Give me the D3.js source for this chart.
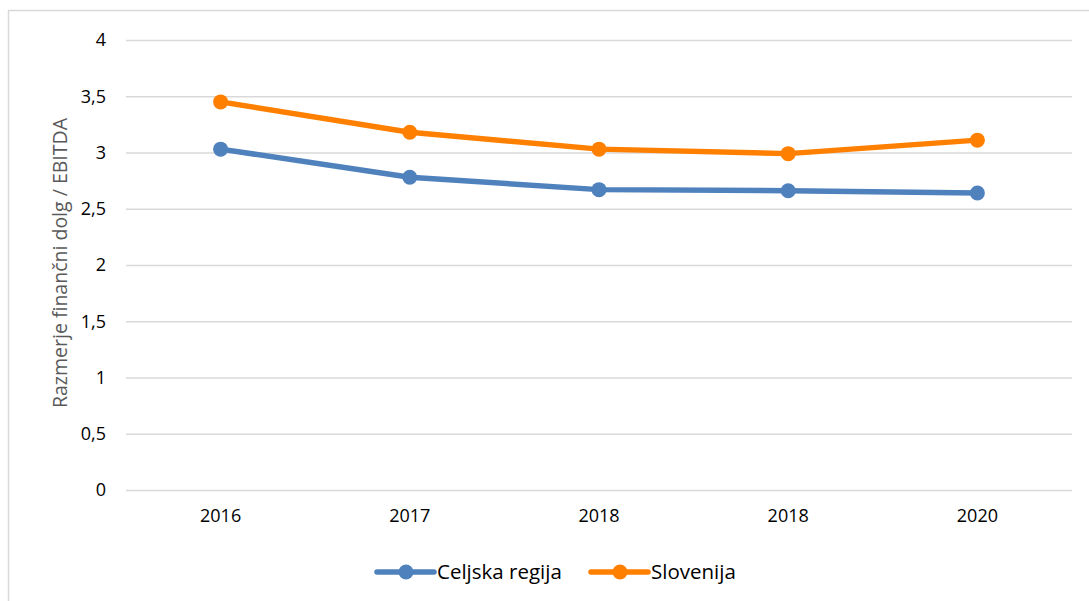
<!DOCTYPE html>
<html>
<head>
<meta charset="utf-8">
<script src="https://cdn.jsdelivr.net/npm/d3@7"></script>
<style>
  body { margin: 0; background: #fff; }
  svg { display: block; font-family: "Open Sans", sans-serif; }
</style>
</head>
<body>
<svg id="chart" width="1089" height="601"></svg>
<script>
// categories (note: the source chart really has 2018 twice)
const years = ['2016', '2017', '2018', '2018', '2020'];
const celjska = [3.03, 2.78, 2.67, 2.66, 2.64];
const slovenija = [3.45, 3.18, 3.03, 2.99, 3.11];
const yTicks = [0, 0.5, 1, 1.5, 2, 2.5, 3, 3.5, 4];

const series = [
    { name: 'Celjska regija', values: celjska, color: '#4f81bd' },
    { name: 'Slovenija', values: slovenija, color: '#ff8000' }
];

const svg = d3.select('#chart');
const m = { left: 126, right: 1072, top: 40, bottom: 490 };
const font = '"Open Sans", sans-serif';

// outer chart border
svg.append('rect')
    .attr('x', 8.5).attr('y', 10.5)
    .attr('width', 1200).attr('height', 800)
    .attr('fill', 'none').attr('stroke', '#d9d9d9').attr('stroke-width', 1.5);

const x = d3.scaleBand().domain(d3.range(years.length)).range([m.left, m.right]);
const y = d3.scaleLinear().domain([0, 4]).range([m.bottom, m.top]);
const fmt = d => String(d).replace('.', ',');

// grid + y labels
const yAxis = svg.append('g')
    .attr('transform', `translate(${m.left},0)`)
    .call(d3.axisLeft(y).tickValues(yTicks).tickFormat(fmt).tickSize(-(m.right - m.left)).tickPadding(20))
    .attr('font-family', font);
yAxis.select('.domain').remove();
yAxis.selectAll('.tick line').attr('stroke', '#d9d9d9').attr('stroke-width', 1.5);
yAxis.selectAll('.tick text').attr('fill', '#000').style('font-size', '18px');

// x labels
const xAxis = svg.append('g')
    .attr('transform', `translate(0,${m.bottom})`)
    .call(d3.axisBottom(x).tickFormat(i => years[i]).tickSize(0).tickPadding(19))
    .attr('font-family', font);
xAxis.select('.domain').remove();
xAxis.selectAll('.tick text').attr('fill', '#000').style('font-size', '18px');

// y title
svg.append('text')
    .attr('transform', `translate(60,263) rotate(-90)`)
    .attr('text-anchor', 'middle')
    .attr('dy', '0.35em')
    .attr('fill', '#595959')
    .style('font-size', '19.5px')
    .text('Razmerje finančni dolg / EBITDA');

const line = d3.line()
    .x((d, i) => x(i) + x.bandwidth() / 2)
    .y(d => y(d));

series.forEach(s => {
    svg.append('path')
        .datum(s.values)
        .attr('fill', 'none')
        .attr('stroke', s.color)
        .attr('stroke-width', 5.5)
        .attr('stroke-linejoin', 'round')
        .attr('stroke-linecap', 'round')
        .attr('d', line);
    svg.selectAll(null)
        .data(s.values)
        .enter()
        .append('circle')
        .attr('cx', (d, i) => x(i) + x.bandwidth() / 2)
        .attr('cy', d => y(d))
        .attr('r', 7.5)
        .attr('fill', s.color);
});

// legend
const legendX = [377, 591];
const legend = svg.append('g').attr('transform', 'translate(0,572)');
series.forEach((s, i) => {
    const g = legend.append('g').attr('transform', `translate(${legendX[i]},0)`);
    g.append('line')
        .attr('x1', 0).attr('x2', 57)
        .attr('stroke', s.color).attr('stroke-width', 5.5).attr('stroke-linecap', 'round');
    g.append('circle').attr('cx', 29).attr('r', 7.5).attr('fill', s.color);
    g.append('text')
        .attr('x', 60).attr('dy', '0.35em')
        .attr('fill', '#000')
        .style('font-size', '20.5px')
        .text(s.name);
});
</script>
</body>
</html>
